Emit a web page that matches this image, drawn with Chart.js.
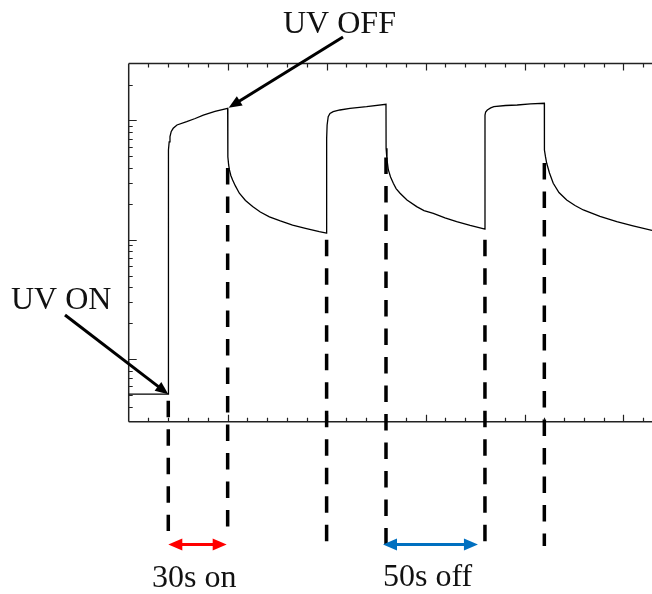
<!DOCTYPE html>
<html><head><meta charset="utf-8">
<script src="https://cdn.jsdelivr.net/npm/chart.js@4/dist/chart.umd.min.js"></script>
<style>html,body{margin:0;padding:0;background:#fff;overflow:hidden}</style>
</head><body>
<canvas id="c" width="652" height="594" style="display:block;width:652px;height:594px"></canvas>
<script>
// time (s)
const timeS = [
  0, 20,
  20.02, 20.15, 20.45, 20.86, 21.5, 22.5, 24.4, 29.3, 33.6, 37.7, 43.6, 50,
  50.1, 50.5, 50.9, 51.6, 52.5, 53.9, 55.9, 59, 62.6, 66.5, 71.1, 76.6, 82.8, 89.3, 96.3, 100,
  100.02, 100.25, 100.8, 101.7, 103.3, 106.7, 111.8, 120.2, 130,
  130.05, 130.5, 131.2, 132.3, 133.7, 135.1, 137.1, 140.6, 145.5, 149.2, 153.9, 159.8, 165.7, 172.5, 180,
  180.02, 180.35, 181.2, 182.9, 184.5, 190.4, 196.3, 203, 210,
  210.05, 210.6, 211.2, 212.6, 214.5, 217.4, 221.3, 225.5, 229.7, 238.1, 246.6, 254.8, 264.4
];
// signal (log scale, arbitrary units)
const signal = [
  0.51, 0.51,
  49.5, 56.6, 66.1, 73.2, 80.9, 86.0, 91.7, 97.7, 103.9, 111, 119, 126.5,
  49.5, 42.4, 38.5, 34.6, 31.7, 28.3, 24.6, 21.4, 19.0, 17.1, 15.6, 14.4, 13.3, 12.5, 11.7, 11.4,
  71, 91.7, 107.6, 114.4, 118.5, 122.4, 126.5, 130.5, 136.7,
  58.5, 46.7, 38.5, 33.6, 29.8, 26.9, 24.6, 21.6, 19.0, 17.6, 16.7, 15.3, 14.2, 13.2, 12.3,
  111, 117.8, 122.4, 127.3, 130.5, 133.5, 134.8, 137.5, 139.3,
  56.6, 49.5, 43.8, 36.3, 29.8, 24.9, 21.6, 19.4, 17.8, 15.7, 14.2, 13.1, 12.0
];
const uvOnTimes = [20, 100, 180];
const uvOffTimes = [50, 130, 210];
const markerTimes = [20, 50, 100, 130, 180, 210];
const markerTopValues = [0.45, 40, 10, 49, 10, 44];
const xMajorTicks = [50, 100, 150, 200, 250];
const xMinorTicks = [10, 20, 30, 40, 60, 70, 80, 90, 110, 120, 130, 140, 160, 170, 180, 190, 210, 220, 230, 240, 260];
const yMajorTicks = [1, 10, 100];
const yMinorTicks = [0.4, 0.5, 0.6, 0.7, 0.8, 0.9, 2, 3, 4, 5, 6, 7, 8, 9, 20, 30, 40, 50, 60, 70, 80, 90, 200];
const labels = { on: "UV ON", off: "UV OFF", onSpan: "30s on", offSpan: "50s off" };

const FONT = '32px "Liberation Serif", "Times New Roman", serif';

function arrowHead(ctx, fx, fy, tx, ty, len, half, color) {
  const a = Math.atan2(ty - fy, tx - fx);
  ctx.save();
  ctx.fillStyle = color;
  ctx.beginPath();
  ctx.moveTo(tx, ty);
  ctx.lineTo(tx - len * Math.cos(a) + half * Math.sin(a), ty - len * Math.sin(a) - half * Math.cos(a));
  ctx.lineTo(tx - len * Math.cos(a) - half * Math.sin(a), ty - len * Math.sin(a) + half * Math.cos(a));
  ctx.closePath();
  ctx.fill();
  ctx.restore();
}
function arrow(ctx, fx, fy, tx, ty, color, lw, len, half) {
  const a = Math.atan2(ty - fy, tx - fx);
  ctx.save();
  ctx.strokeStyle = color; ctx.lineWidth = lw;
  ctx.beginPath();
  ctx.moveTo(fx, fy);
  ctx.lineTo(tx - len * 0.8 * Math.cos(a), ty - len * 0.8 * Math.sin(a));
  ctx.stroke();
  ctx.restore();
  arrowHead(ctx, fx, fy, tx, ty, len, half, color);
}
function doubleArrow(ctx, x1, x2, y, color) {
  ctx.save();
  ctx.strokeStyle = color; ctx.lineWidth = 3;
  ctx.beginPath(); ctx.moveTo(x1 + 10, y); ctx.lineTo(x2 - 10, y); ctx.stroke();
  ctx.restore();
  arrowHead(ctx, x2, y, x1, y, 14, 6, color);
  arrowHead(ctx, x1, y, x2, y, 14, 6, color);
}

const decor = {
  id: 'decor',
  beforeDatasetsDraw(chart) {
    const { ctx, chartArea: ca, scales } = chart;
    const xs = scales.x, ys = scales.y;
    ctx.save();
    ctx.strokeStyle = '#222';
    ctx.lineWidth = 1.5;
    ctx.beginPath();
    ctx.moveTo(ca.left, ca.top); ctx.lineTo(ca.right + 2, ca.top);
    ctx.moveTo(ca.left, ca.top); ctx.lineTo(ca.left, ca.bottom);
    ctx.moveTo(ca.left, ca.bottom); ctx.lineTo(ca.right + 2, ca.bottom);
    ctx.stroke();
    ctx.lineWidth = 1.2;
    ctx.beginPath();
    const xt = (v, l) => {
      const px = Math.round(xs.getPixelForValue(v)) + 0.5;
      ctx.moveTo(px, ca.bottom); ctx.lineTo(px, ca.bottom - l);
      ctx.moveTo(px, ca.top); ctx.lineTo(px, ca.top + l);
    };
    xMajorTicks.forEach(v => xt(v, 7));
    xMinorTicks.forEach(v => xt(v, 4));
    const yt = (v, l) => {
      const py = Math.round(ys.getPixelForValue(v)) + 0.5;
      ctx.moveTo(ca.left, py); ctx.lineTo(ca.left + l, py);
    };
    yMajorTicks.forEach(v => yt(v, 8));
    yMinorTicks.forEach(v => yt(v, 4));
    ctx.stroke();
    ctx.restore();
  },
  afterDatasetsDraw(chart) {
    const { ctx, scales } = chart;
    const xs = scales.x, ys = scales.y;
    ctx.save();
    ctx.strokeStyle = '#000';
    ctx.lineWidth = 3.5;
    ctx.setLineDash([16.5, 12]);
    markerTimes.forEach((t, i) => {
      const px = xs.getPixelForValue(t);
      const top = ys.getPixelForValue(markerTopValues[i]);
      const bottom = i < 2 ? 531 : 546;
      ctx.beginPath(); ctx.moveTo(px, top); ctx.lineTo(px, bottom); ctx.stroke();
    });
    ctx.restore();
    const onX = xs.getPixelForValue(uvOnTimes[0]), onY = ys.getPixelForValue(signal[1]);
    arrow(ctx, 65, 315, onX, onY, '#000', 3, 13, 5.5);
    const offX = xs.getPixelForValue(uvOffTimes[0]), offY = ys.getPixelForValue(signal[13]);
    arrow(ctx, 343, 37, offX + 1, offY - 0.5, '#000', 3, 13, 5.5);
    doubleArrow(ctx, xs.getPixelForValue(uvOnTimes[0]), xs.getPixelForValue(uvOffTimes[0]) - 1, 544.5, '#ff0000');
    doubleArrow(ctx, xs.getPixelForValue(uvOffTimes[1]) - 3, xs.getPixelForValue(uvOnTimes[2]) - 7, 544.5, '#0070c0');
    ctx.save();
    ctx.fillStyle = '#111';
    ctx.font = FONT;
    ctx.textAlign = 'left';
    ctx.textBaseline = 'alphabetic';
    ctx.fillText(labels.off, 283, 33);
    ctx.fillText(labels.on, 11, 309);
    ctx.fillText(labels.onSpan, 152, 586.5);
    ctx.fillText(labels.offSpan, 383, 586);
    ctx.restore();
  }
};

new Chart(document.getElementById('c'), {
  type: 'line',
  data: {
    datasets: [{
      data: timeS.map((t, i) => ({ x: t, y: signal[i] })),
      borderColor: '#000',
      borderWidth: 1.3,
      pointRadius: 0,
      fill: false,
      tension: 0
    }]
  },
  options: {
    responsive: false,
    animation: false,
    devicePixelRatio: 1,
    layout: { padding: { left: 128.7, top: 63.5, right: 0, bottom: 172.3 } },
    plugins: { legend: { display: false }, tooltip: { enabled: false } },
    scales: {
      x: { type: 'linear', min: 0, max: 264.4, display: false },
      y: { type: 'logarithmic', min: 0.3, max: 300, display: false }
    }
  },
  plugins: [decor]
});
</script>
</body></html>
